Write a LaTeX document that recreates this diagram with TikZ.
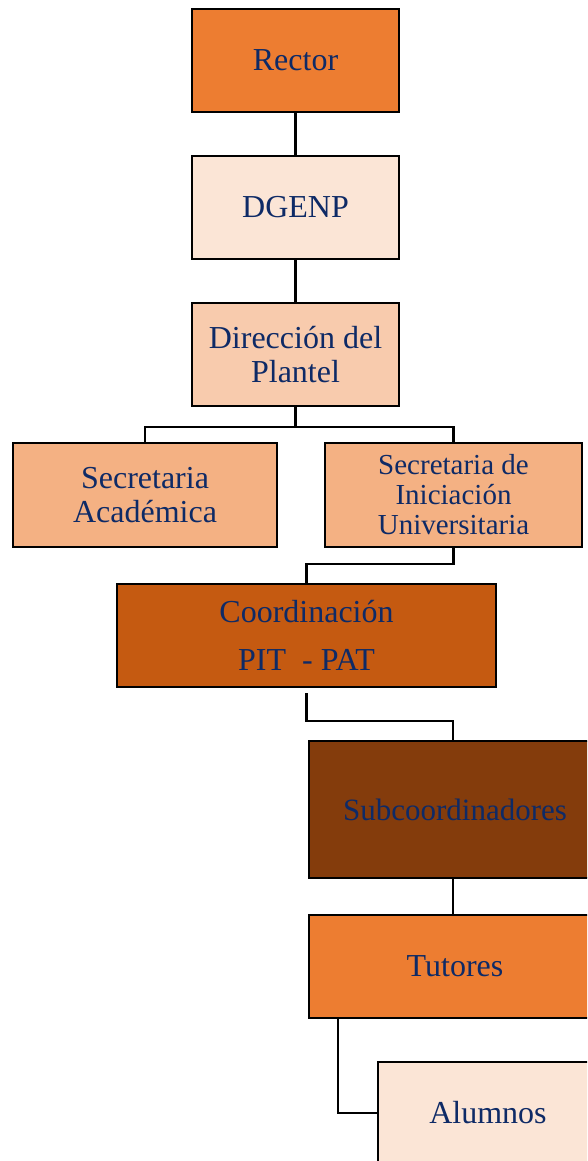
\documentclass[tikz,border=0pt]{standalone}
\usepackage{fontspec}
\setmainfont{Liberation Serif}
\usetikzlibrary{calc,positioning}

\definecolor{naranja}{HTML}{ED7D31}
\definecolor{durazno}{HTML}{FBE5D6}
\definecolor{salmon}{HTML}{F8CBAD}
\definecolor{melon}{HTML}{F4B183}
\definecolor{cobre}{HTML}{C55A11}
\definecolor{cafe}{HTML}{843C0C}
\definecolor{azultexto}{HTML}{0E2A66}

\tikzset{
    caja/.style={draw=black, line width=2.6pt, inner sep=0pt, align=center,
        text=azultexto, font=\fontsize{32}{34}\selectfont,
        minimum width=207pt, minimum height=103pt},
    enlace/.style={draw=black, line width=2.3pt}
}

\begin{document}
\begin{tikzpicture}[x=1pt, y=-1pt]
    \path[use as bounding box, clip] (0,0) rectangle (587,1161);

    \node [caja, fill=naranja] (rector) at (295.5, 60.5) {Rector};
    \node [caja, fill=durazno] (dgenp) at (295.5, 207.5) {DGENP};
    \node [caja, fill=salmon] (plantel) at (295.5, 354.5) {Dirección del\\Plantel};

    \node [caja, fill=melon, minimum width=264pt, minimum height=104pt] (academica) at (145, 495) {Secretaria\\Académica};
    \node [caja, fill=melon, minimum width=257pt, minimum height=104pt,
        font=\fontsize{29}{30}\selectfont] (iniciacion) at (453.5, 495) {Secretaria de\\Iniciación\\Universitaria};

    \node [caja, fill=cobre, minimum width=379pt, font=\fontsize{32}{48}\selectfont] (coordinacion) at (306.5, 635.5) {Coordinación\\PIT~ - PAT};

    \node [caja, fill=cafe, minimum width=292pt, minimum height=137pt,
        font=\fontsize{31}{34}\selectfont] (subcoord) at (455, 809.5) {Subcoordinadores};
    \node [caja, fill=naranja, minimum width=292pt] (tutores) at (455, 966.5) {Tutores};
    \node [caja, fill=durazno, minimum width=220pt, minimum height=102pt] (alumnos) at (488, 1113) {Alumnos};

    % lineas de mando
    \draw [enlace] (rector) -- (dgenp);
    \draw [enlace] (dgenp) -- (plantel);
    \draw [enlace] (plantel.south) -- ++(0,20) coordinate (ramal) -| (academica.north);
    \draw [enlace] (ramal) -| (iniciacion.north);
    \draw [enlace] (iniciacion.south) -- ++(0,16) -| (coordinacion.north);
    \draw [enlace, shorten <=5pt] (coordinacion.south) -- ++(0,33) -| ([xshift=-2pt]subcoord.north);
    \draw [enlace] ([xshift=-2pt]subcoord.south) -- ([xshift=-2pt]tutores.north);
    \draw [enlace] ([xshift=30pt]tutores.south west) |- (alumnos.west);

\end{tikzpicture}
\end{document}
